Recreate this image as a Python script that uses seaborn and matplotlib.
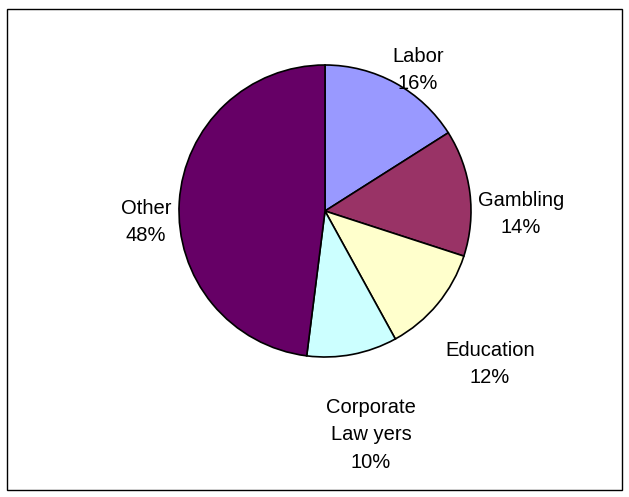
import matplotlib
matplotlib.use("Agg")
import matplotlib.pyplot as plt
import seaborn as sns
from matplotlib.patches import Rectangle

# data
categories = ["Labor", "Gambling", "Education", "Corporate\nLaw yers", "Other"]
shares = [16, 14, 12, 10, 48]
colors = ["#9999FF", "#993366", "#FFFFCC", "#CCFFFF", "#660066"]

# label centres, in pixels of the picture
label_pos = [(418, 70), (521, 214), (490, 364), (371, 435), (146, 222)]

sns.set_theme(style="white")
plt.rcParams["font.family"] = ["Liberation Sans", "DejaVu Sans"]

fig = plt.figure(figsize=(6.29, 4.97), dpi=100)
ax = fig.add_axes([0, 0, 1, 1])

# y axis runs downward, so counterclock=True draws clockwise on screen
ax.pie(shares, colors=colors, center=(325, 211), radius=146,
       startangle=-90, counterclock=True,
       wedgeprops=dict(edgecolor="black", linewidth=1.2))

ax.set_xlim(0, 629)
ax.set_ylim(497, 0)
ax.axis("off")

for cat, val, (x, y) in zip(categories, shares, label_pos):
    ax.text(x, y, f"{cat}\n{val}%", ha="center", va="center",
            fontsize=14.5, linespacing=1.55, color="black")

fig.patches.append(Rectangle((7 / 629, 1 - 490 / 497), 615 / 629, 481 / 497,
                             transform=fig.transFigure, fill=False,
                             edgecolor="black", linewidth=1))

fig.savefig("out.png", dpi=100)
